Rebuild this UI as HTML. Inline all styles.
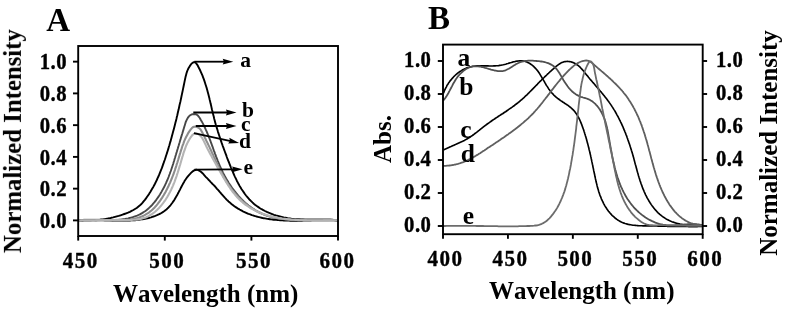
<!DOCTYPE html>
<html><head><meta charset="utf-8"><title>Spectra</title>
<style>html,body{margin:0;padding:0;background:#fff;}svg{display:block;}</style></head>
<body>
<svg width="786" height="310" viewBox="0 0 786 310" >
<defs><filter id="soft" x="0" y="0" width="786" height="310" filterUnits="userSpaceOnUse"><feGaussianBlur stdDeviation="0.38"/></filter></defs>
<rect width="786" height="310" fill="#fff"/>
<g font-family="'Liberation Serif', serif" font-weight="bold" fill="#000" style="font-kerning:none" filter="url(#soft)">
<clipPath id="ca"><rect x="78.2" y="46.0" width="259.8" height="190.0"/></clipPath>
<g clip-path="url(#ca)" fill="none" stroke-width="1.9" stroke-linejoin="round">
<path d="M78.4,220.3 L80.4,220.4 L82.3,220.5 L84.3,220.5 L86.3,220.6 L88.2,220.5 L90.2,220.5 L92.1,220.4 L94.0,220.3 L96.0,220.2 L97.9,220.0 L99.8,219.8 L101.7,219.5 L103.6,219.3 L105.5,219.0 L107.4,218.6 L109.3,218.3 L111.2,217.8 L113.1,217.4 L115.0,216.9 L116.8,216.4 L118.7,215.9 L120.6,215.3 L122.5,214.7 L124.3,214.0 L126.2,213.3 L128.0,212.6 L129.9,211.8 L131.6,210.9 L133.4,210.0 L135.0,209.0 L136.7,208.0 L138.2,206.8 L139.7,205.6 L141.1,204.3 L142.4,202.9 L143.6,201.4 L144.9,199.9 L146.0,198.4 L147.1,196.8 L148.2,195.2 L149.3,193.6 L150.3,192.0 L151.3,190.3 L152.3,188.6 L153.3,186.9 L154.2,185.2 L155.1,183.5 L155.9,181.8 L156.8,180.0 L157.6,178.2 L158.4,176.5 L159.2,174.7 L159.9,172.9 L160.6,171.1 L161.4,169.2 L162.1,167.4 L162.7,165.6 L163.4,163.7 L164.0,161.9 L164.7,160.0 L165.3,158.2 L165.9,156.3 L166.5,154.5 L167.1,152.6 L167.7,150.7 L168.3,148.9 L168.8,147.0 L169.4,145.2 L169.9,143.3 L170.5,141.4 L171.0,139.6 L171.5,137.7 L172.0,135.8 L172.5,134.0 L173.0,132.1 L173.5,130.2 L174.0,128.4 L174.5,126.5 L175.0,124.6 L175.4,122.8 L175.9,120.9 L176.4,119.0 L176.8,117.1 L177.3,115.2 L177.7,113.3 L178.1,111.5 L178.6,109.6 L179.0,107.7 L179.4,105.8 L179.8,103.9 L180.3,102.0 L180.7,100.1 L181.1,98.2 L181.5,96.3 L181.9,94.4 L182.3,92.5 L182.7,90.6 L183.1,88.6 L183.5,86.7 L183.9,84.8 L184.3,82.9 L184.7,80.9 L185.1,79.0 L185.5,77.1 L186.0,75.2 L186.5,73.3 L187.1,71.4 L187.9,69.5 L188.8,67.7 L189.9,65.9 L191.1,64.2 L192.5,62.8 L193.9,62.1 L195.1,62.4 L196.2,63.4 L197.3,64.8 L198.2,66.5 L199.1,68.3 L200.0,70.0 L200.8,71.8 L201.6,73.6 L202.4,75.4 L203.1,77.3 L203.8,79.1 L204.4,80.9 L205.0,82.8 L205.6,84.7 L206.2,86.5 L206.8,88.4 L207.3,90.3 L207.8,92.2 L208.3,94.1 L208.8,96.0 L209.3,97.9 L209.7,99.8 L210.2,101.7 L210.6,103.6 L211.1,105.5 L211.5,107.4 L211.9,109.3 L212.4,111.2 L212.8,113.1 L213.3,115.0 L213.8,116.8 L214.2,118.7 L214.7,120.6 L215.2,122.4 L215.7,124.3 L216.3,126.1 L216.8,127.9 L217.4,129.8 L217.9,131.6 L218.5,133.4 L219.1,135.2 L219.7,137.0 L220.3,138.8 L220.9,140.6 L221.5,142.4 L222.2,144.3 L222.8,146.1 L223.5,147.9 L224.1,149.7 L224.8,151.5 L225.5,153.3 L226.2,155.1 L226.8,157.0 L227.5,158.8 L228.2,160.7 L229.0,162.5 L229.7,164.4 L230.4,166.2 L231.1,168.0 L231.9,169.9 L232.7,171.7 L233.5,173.5 L234.3,175.4 L235.1,177.1 L236.0,178.9 L236.8,180.7 L237.7,182.4 L238.7,184.2 L239.6,185.9 L240.6,187.5 L241.6,189.2 L242.7,190.8 L243.8,192.4 L244.9,194.0 L246.0,195.5 L247.2,196.9 L248.5,198.4 L249.7,199.8 L251.1,201.1 L252.4,202.4 L253.8,203.7 L255.3,204.9 L256.8,206.0 L258.4,207.1 L260.0,208.2 L261.6,209.2 L263.3,210.1 L265.0,211.0 L266.8,211.9 L268.6,212.7 L270.4,213.4 L272.2,214.1 L274.1,214.8 L276.0,215.4 L277.9,215.9 L279.8,216.4 L281.7,216.9 L283.7,217.4 L285.6,217.7 L287.6,218.1 L289.5,218.4 L291.4,218.7 L293.4,218.9 L295.3,219.1 L297.3,219.2 L299.2,219.3 L301.1,219.4 L303.1,219.5 L305.0,219.6 L306.9,219.6 L308.8,219.6 L310.8,219.6 L312.7,219.6 L314.6,219.6 L316.6,219.6 L318.5,219.6 L320.4,219.6 L322.4,219.6 L324.3,219.6 L326.2,219.7 L328.2,219.7 L330.1,219.8 L332.1,219.9 L334.1,220.0 L336.0,220.2 L338.0,220.3" stroke="#000"/>
<path d="M78.4,220.5 L79.7,220.4 L80.9,220.3 L82.2,220.2 L83.4,220.1 L84.7,220.1 L85.9,220.0 L87.2,220.0 L88.4,219.9 L89.7,219.9 L90.9,219.9 L92.2,219.9 L93.5,219.9 L94.7,219.9 L96.0,219.9 L97.2,220.0 L98.5,220.0 L99.7,220.0 L101.0,220.1 L102.3,220.1 L103.5,220.1 L104.8,220.2 L106.0,220.2 L107.3,220.3 L108.6,220.3 L109.8,220.4 L111.1,220.4 L112.3,220.5 L113.6,220.5 L114.9,220.5 L116.1,220.6 L117.4,220.6 L118.6,220.6 L119.9,220.6 L121.2,220.6 L122.4,220.6 L123.7,220.6 L124.9,220.6 L126.2,220.6 L127.5,220.6 L128.7,220.5 L130.0,220.5 L131.2,220.4 L132.5,220.3 L133.7,220.3 L135.0,220.2 L136.2,220.0 L137.5,219.9 L138.8,219.8 L140.0,219.6 L141.3,219.4 L142.5,219.2 L143.8,219.0 L145.0,218.8 L146.2,218.5 L147.5,218.3 L148.7,218.0 L149.9,217.6 L151.1,217.3 L152.3,216.9 L153.5,216.5 L154.7,216.1 L155.8,215.7 L157.0,215.2 L158.1,214.7 L159.2,214.2 L160.3,213.6 L161.4,213.0 L162.4,212.4 L163.4,211.7 L164.4,211.0 L165.4,210.2 L166.4,209.5 L167.3,208.6 L168.2,207.8 L169.0,206.9 L169.9,206.0 L170.7,205.0 L171.4,204.0 L172.2,203.0 L172.9,201.9 L173.7,200.9 L174.4,199.8 L175.0,198.7 L175.7,197.6 L176.3,196.4 L177.0,195.3 L177.6,194.2 L178.2,193.0 L178.8,191.9 L179.4,190.7 L180.0,189.6 L180.6,188.4 L181.2,187.3 L181.7,186.2 L182.3,185.1 L182.9,184.0 L183.5,182.9 L184.1,181.9 L184.7,180.8 L185.4,179.8 L186.1,178.8 L186.8,177.8 L187.5,176.8 L188.3,175.8 L189.2,174.8 L190.1,173.9 L191.0,172.9 L192.0,172.0 L193.1,171.1 L194.2,170.4 L195.3,170.0 L196.3,169.8 L197.4,169.9 L198.4,170.2 L199.5,170.8 L200.5,171.5 L201.5,172.3 L202.5,173.2 L203.4,174.2 L204.4,175.3 L205.3,176.3 L206.2,177.3 L207.1,178.2 L208.0,179.1 L208.8,180.0 L209.7,180.9 L210.5,181.8 L211.3,182.6 L212.1,183.5 L212.9,184.3 L213.8,185.2 L214.6,186.0 L215.4,186.9 L216.2,187.8 L217.0,188.8 L217.8,189.7 L218.7,190.7 L219.5,191.7 L220.4,192.7 L221.2,193.7 L222.1,194.7 L223.0,195.7 L223.9,196.7 L224.8,197.7 L225.7,198.6 L226.6,199.6 L227.6,200.5 L228.5,201.4 L229.5,202.2 L230.4,203.1 L231.4,203.9 L232.4,204.7 L233.4,205.4 L234.4,206.2 L235.4,206.9 L236.5,207.6 L237.5,208.3 L238.6,208.9 L239.6,209.5 L240.7,210.1 L241.8,210.7 L242.9,211.3 L244.0,211.8 L245.1,212.3 L246.2,212.8 L247.3,213.3 L248.4,213.8 L249.6,214.2 L250.7,214.6 L251.9,215.1 L253.0,215.4 L254.2,215.8 L255.4,216.2 L256.6,216.5 L257.8,216.8 L258.9,217.1 L260.1,217.4 L261.4,217.7 L262.6,218.0 L263.8,218.2 L265.0,218.4 L266.2,218.6 L267.5,218.9 L268.7,219.0 L269.9,219.2 L271.2,219.4 L272.4,219.5 L273.7,219.7 L274.9,219.8 L276.2,219.9 L277.5,220.0 L278.7,220.1 L280.0,220.2 L281.3,220.3 L282.5,220.4 L283.8,220.5 L285.1,220.5 L286.4,220.6 L287.7,220.6 L288.9,220.6 L290.2,220.7 L291.5,220.7 L292.8,220.7 L294.1,220.7 L295.4,220.7 L296.6,220.7 L297.9,220.7 L299.2,220.7 L300.5,220.7 L301.8,220.7 L303.1,220.6 L304.4,220.6 L305.6,220.6 L306.9,220.6 L308.2,220.5 L309.5,220.5 L310.8,220.5 L312.0,220.4 L313.3,220.4 L314.6,220.4 L315.8,220.3 L317.1,220.3 L318.4,220.3 L319.6,220.3 L320.9,220.2 L322.1,220.2 L323.4,220.2 L324.6,220.2 L325.9,220.2 L327.1,220.2 L328.3,220.2 L329.5,220.2 L330.8,220.2 L332.0,220.2 L333.2,220.2 L334.4,220.2 L335.6,220.2 L336.8,220.3 L338.0,220.3" stroke="#000"/>
<path d="M78.5,220.4 L80.0,220.3 L81.5,220.2 L83.0,220.2 L84.5,220.1 L86.1,220.1 L87.7,220.1 L89.2,220.1 L90.8,220.1 L92.4,220.1 L94.0,220.1 L95.7,220.2 L97.3,220.2 L98.9,220.2 L100.6,220.2 L102.2,220.2 L103.9,220.3 L105.5,220.3 L107.2,220.3 L108.8,220.2 L110.5,220.2 L112.1,220.2 L113.8,220.1 L115.4,220.0 L117.0,219.9 L118.7,219.8 L120.3,219.6 L121.9,219.4 L123.5,219.2 L125.0,219.0 L126.6,218.7 L128.2,218.4 L129.7,218.0 L131.2,217.6 L132.7,217.2 L134.2,216.7 L135.6,216.2 L137.1,215.6 L138.5,215.0 L139.9,214.4 L141.2,213.6 L142.5,212.9 L143.8,212.0 L145.1,211.2 L146.4,210.2 L147.6,209.2 L148.8,208.2 L149.9,207.1 L151.1,206.0 L152.2,204.8 L153.2,203.6 L154.3,202.4 L155.3,201.1 L156.3,199.8 L157.2,198.5 L158.2,197.1 L159.1,195.8 L160.0,194.4 L160.8,193.0 L161.6,191.6 L162.4,190.1 L163.2,188.7 L164.0,187.3 L164.7,185.8 L165.4,184.3 L166.1,182.9 L166.7,181.4 L167.4,180.0 L168.0,178.5 L168.6,177.0 L169.1,175.5 L169.7,174.0 L170.2,172.5 L170.8,171.0 L171.3,169.5 L171.8,168.0 L172.3,166.5 L172.8,165.0 L173.3,163.5 L173.7,162.0 L174.2,160.5 L174.6,159.0 L175.1,157.5 L175.5,156.0 L176.0,154.5 L176.4,153.0 L176.9,151.5 L177.3,150.0 L177.8,148.5 L178.2,147.0 L178.7,145.5 L179.1,144.0 L179.6,142.5 L180.0,141.0 L180.5,139.4 L180.9,137.9 L181.4,136.4 L181.9,134.8 L182.4,133.3 L182.8,131.7 L183.3,130.1 L183.8,128.5 L184.3,126.8 L184.8,125.2 L185.3,123.5 L185.8,121.9 L186.5,120.3 L187.2,118.9 L188.0,117.6 L188.9,116.4 L190.0,115.4 L191.2,114.7 L192.6,114.2 L194.0,114.1 L195.4,114.2 L196.7,114.7 L197.9,115.6 L198.9,116.8 L199.9,118.2 L200.7,119.7 L201.6,121.2 L202.4,122.6 L203.2,124.1 L203.9,125.6 L204.6,127.0 L205.3,128.5 L205.9,129.9 L206.6,131.4 L207.2,132.8 L207.8,134.3 L208.4,135.8 L209.0,137.3 L209.6,138.7 L210.1,140.2 L210.7,141.7 L211.2,143.2 L211.8,144.7 L212.3,146.2 L212.9,147.7 L213.4,149.2 L213.9,150.6 L214.5,152.1 L215.0,153.6 L215.6,155.1 L216.1,156.6 L216.7,158.1 L217.3,159.6 L217.9,161.1 L218.5,162.5 L219.1,164.0 L219.7,165.5 L220.3,167.0 L221.0,168.4 L221.7,169.9 L222.4,171.3 L223.1,172.8 L223.8,174.2 L224.6,175.7 L225.4,177.1 L226.1,178.5 L227.0,179.9 L227.8,181.3 L228.6,182.7 L229.5,184.0 L230.4,185.4 L231.3,186.7 L232.2,188.1 L233.2,189.4 L234.2,190.7 L235.2,191.9 L236.2,193.2 L237.2,194.4 L238.2,195.6 L239.3,196.8 L240.4,198.0 L241.5,199.1 L242.6,200.3 L243.8,201.4 L244.9,202.4 L246.1,203.5 L247.3,204.5 L248.5,205.5 L249.8,206.4 L251.0,207.4 L252.3,208.3 L253.6,209.1 L254.9,210.0 L256.2,210.8 L257.6,211.5 L259.0,212.3 L260.4,212.9 L261.8,213.6 L263.2,214.2 L264.7,214.8 L266.1,215.3 L267.6,215.8 L269.1,216.3 L270.7,216.7 L272.2,217.1 L273.8,217.5 L275.3,217.8 L276.9,218.1 L278.5,218.4 L280.1,218.6 L281.7,218.8 L283.4,219.0 L285.0,219.2 L286.6,219.3 L288.3,219.5 L289.9,219.6 L291.6,219.6 L293.3,219.7 L294.9,219.8 L296.6,219.8 L298.3,219.8 L299.9,219.8 L301.6,219.8 L303.3,219.8 L305.0,219.8 L306.6,219.8 L308.3,219.8 L309.9,219.8 L311.6,219.7 L313.2,219.7 L314.9,219.7 L316.5,219.6 L318.1,219.6 L319.7,219.6 L321.3,219.6 L322.9,219.6 L324.5,219.6 L326.1,219.6 L327.6,219.7 L329.1,219.7 L330.6,219.8 L332.1,219.8 L333.6,219.9 L335.1,220.0 L336.5,220.2 L337.9,220.3" stroke="#474747"/>
<path d="M78.5,220.5 L79.9,220.3 L81.3,220.1 L82.7,220.0 L84.1,219.9 L85.5,219.8 L87.0,219.8 L88.4,219.7 L89.9,219.7 L91.4,219.7 L92.9,219.7 L94.5,219.8 L96.0,219.8 L97.6,219.9 L99.1,219.9 L100.7,220.0 L102.2,220.0 L103.8,220.1 L105.4,220.2 L107.0,220.2 L108.6,220.3 L110.1,220.4 L111.7,220.4 L113.3,220.4 L114.9,220.4 L116.5,220.5 L118.0,220.4 L119.6,220.4 L121.1,220.4 L122.7,220.3 L124.2,220.2 L125.8,220.1 L127.3,219.9 L128.8,219.8 L130.3,219.6 L131.8,219.3 L133.2,219.0 L134.7,218.7 L136.1,218.4 L137.5,218.0 L138.9,217.6 L140.3,217.1 L141.6,216.6 L142.9,216.0 L144.2,215.4 L145.5,214.7 L146.7,213.9 L148.0,213.2 L149.2,212.3 L150.3,211.4 L151.5,210.5 L152.6,209.5 L153.6,208.5 L154.7,207.4 L155.7,206.3 L156.7,205.1 L157.7,203.9 L158.6,202.7 L159.6,201.5 L160.5,200.2 L161.3,198.9 L162.2,197.6 L163.0,196.3 L163.8,195.0 L164.6,193.6 L165.4,192.3 L166.1,190.9 L166.8,189.5 L167.5,188.1 L168.2,186.8 L168.8,185.4 L169.4,184.0 L170.1,182.6 L170.6,181.3 L171.2,179.9 L171.8,178.5 L172.3,177.1 L172.9,175.7 L173.4,174.3 L173.9,172.9 L174.4,171.5 L174.9,170.1 L175.3,168.7 L175.8,167.3 L176.3,165.8 L176.7,164.4 L177.2,163.0 L177.6,161.6 L178.1,160.1 L178.5,158.7 L179.0,157.2 L179.4,155.8 L179.8,154.3 L180.3,152.8 L180.7,151.4 L181.2,149.9 L181.7,148.4 L182.1,147.0 L182.6,145.5 L183.2,144.1 L183.7,142.6 L184.2,141.2 L184.8,139.8 L185.4,138.4 L186.1,137.1 L186.8,135.7 L187.5,134.4 L188.2,133.1 L189.0,131.9 L189.9,130.6 L190.8,129.4 L191.7,128.3 L192.8,127.3 L194.0,126.7 L195.4,126.6 L197.0,127.0 L198.6,127.7 L199.8,128.7 L200.8,129.9 L201.6,131.2 L202.3,132.5 L203.0,133.9 L203.7,135.3 L204.4,136.6 L205.0,138.0 L205.7,139.3 L206.3,140.7 L207.0,142.0 L207.7,143.4 L208.3,144.7 L209.0,146.1 L209.6,147.4 L210.2,148.8 L210.9,150.1 L211.5,151.5 L212.1,152.9 L212.8,154.2 L213.4,155.6 L214.0,157.0 L214.7,158.3 L215.3,159.7 L215.9,161.1 L216.6,162.5 L217.2,163.8 L217.9,165.2 L218.5,166.6 L219.2,168.0 L219.8,169.3 L220.5,170.7 L221.2,172.0 L221.9,173.4 L222.6,174.7 L223.3,176.1 L224.1,177.4 L224.8,178.7 L225.6,180.0 L226.4,181.3 L227.2,182.6 L228.0,183.9 L228.8,185.1 L229.7,186.4 L230.6,187.6 L231.4,188.9 L232.4,190.1 L233.3,191.3 L234.3,192.4 L235.3,193.6 L236.3,194.7 L237.3,195.9 L238.3,197.0 L239.4,198.1 L240.5,199.1 L241.6,200.2 L242.7,201.2 L243.9,202.2 L245.0,203.2 L246.2,204.1 L247.4,205.0 L248.6,205.9 L249.8,206.8 L251.1,207.7 L252.3,208.5 L253.6,209.3 L254.9,210.1 L256.2,210.8 L257.5,211.5 L258.8,212.2 L260.2,212.8 L261.6,213.4 L262.9,214.0 L264.3,214.6 L265.7,215.1 L267.1,215.6 L268.6,216.0 L270.0,216.5 L271.4,216.8 L272.9,217.2 L274.4,217.5 L275.8,217.8 L277.3,218.1 L278.8,218.4 L280.3,218.6 L281.8,218.8 L283.3,219.0 L284.9,219.1 L286.4,219.3 L287.9,219.4 L289.5,219.5 L291.0,219.6 L292.5,219.7 L294.1,219.7 L295.6,219.8 L297.2,219.8 L298.7,219.9 L300.3,219.9 L301.9,219.9 L303.4,219.9 L305.0,219.9 L306.5,219.9 L308.1,219.8 L309.6,219.8 L311.2,219.8 L312.7,219.8 L314.2,219.8 L315.8,219.7 L317.3,219.7 L318.8,219.7 L320.4,219.7 L321.9,219.7 L323.4,219.7 L324.9,219.7 L326.4,219.7 L327.9,219.7 L329.3,219.8 L330.8,219.8 L332.3,219.9 L333.7,220.0 L335.1,220.1 L336.6,220.2 L338.0,220.3" stroke="#8c8c8c" stroke-width="2.1"/>
<path d="M78.4,220.4 L80.0,220.5 L81.5,220.5 L83.0,220.5 L84.6,220.6 L86.1,220.6 L87.5,220.6 L89.0,220.6 L90.5,220.6 L92.0,220.5 L93.4,220.5 L94.9,220.5 L96.3,220.4 L97.7,220.4 L99.2,220.4 L100.6,220.3 L102.0,220.3 L103.5,220.2 L104.9,220.2 L106.3,220.1 L107.7,220.1 L109.2,220.1 L110.6,220.0 L112.1,220.0 L113.5,220.0 L115.0,220.0 L116.5,219.9 L118.0,219.9 L119.5,219.9 L121.0,219.9 L122.5,220.0 L124.0,220.0 L125.6,220.0 L127.1,220.0 L128.7,220.0 L130.2,220.0 L131.7,219.9 L133.3,219.8 L134.8,219.7 L136.3,219.6 L137.8,219.4 L139.2,219.2 L140.7,218.9 L142.1,218.5 L143.5,218.1 L144.9,217.7 L146.2,217.2 L147.5,216.6 L148.8,215.9 L150.0,215.2 L151.3,214.5 L152.5,213.7 L153.6,212.8 L154.8,212.0 L155.9,211.0 L157.0,210.0 L158.0,209.0 L159.0,208.0 L160.0,206.9 L161.0,205.8 L161.9,204.6 L162.9,203.4 L163.8,202.2 L164.6,201.0 L165.5,199.8 L166.3,198.5 L167.1,197.2 L167.8,195.9 L168.6,194.6 L169.3,193.3 L170.0,192.0 L170.6,190.7 L171.3,189.4 L171.9,188.0 L172.5,186.7 L173.1,185.3 L173.6,184.0 L174.2,182.6 L174.7,181.3 L175.2,179.9 L175.7,178.5 L176.2,177.2 L176.7,175.8 L177.1,174.4 L177.6,173.0 L178.0,171.6 L178.5,170.2 L178.9,168.8 L179.3,167.4 L179.7,166.0 L180.2,164.6 L180.6,163.1 L181.0,161.7 L181.4,160.3 L181.8,158.9 L182.2,157.4 L182.7,156.0 L183.1,154.6 L183.5,153.1 L184.0,151.7 L184.5,150.3 L185.0,148.9 L185.5,147.5 L186.0,146.1 L186.6,144.7 L187.2,143.4 L187.9,142.0 L188.6,140.7 L189.3,139.5 L190.1,138.2 L190.9,137.0 L191.8,135.8 L192.7,134.8 L193.8,134.0 L195.1,133.6 L196.4,133.6 L197.8,133.9 L199.0,134.5 L200.0,135.4 L201.0,136.4 L201.9,137.6 L202.7,139.0 L203.5,140.4 L204.2,141.8 L204.9,143.3 L205.6,144.7 L206.2,146.1 L206.9,147.5 L207.6,148.9 L208.3,150.2 L209.0,151.5 L209.6,152.8 L210.3,154.1 L211.0,155.3 L211.7,156.6 L212.3,157.8 L213.0,159.0 L213.7,160.2 L214.4,161.5 L215.1,162.7 L215.7,163.9 L216.4,165.1 L217.1,166.4 L217.8,167.6 L218.5,168.9 L219.3,170.1 L220.0,171.4 L220.7,172.7 L221.4,174.0 L222.2,175.3 L222.9,176.6 L223.7,177.9 L224.5,179.2 L225.3,180.6 L226.0,181.9 L226.9,183.2 L227.7,184.5 L228.5,185.8 L229.4,187.0 L230.2,188.3 L231.1,189.6 L232.0,190.8 L232.9,192.0 L233.8,193.2 L234.8,194.4 L235.7,195.5 L236.7,196.7 L237.7,197.8 L238.7,198.8 L239.8,199.9 L240.9,200.9 L241.9,201.8 L243.0,202.8 L244.2,203.7 L245.3,204.6 L246.5,205.4 L247.7,206.2 L248.9,207.0 L250.1,207.8 L251.3,208.5 L252.6,209.2 L253.8,209.9 L255.1,210.5 L256.4,211.2 L257.7,211.8 L259.0,212.3 L260.4,212.9 L261.7,213.4 L263.1,213.9 L264.5,214.4 L265.9,214.8 L267.3,215.3 L268.7,215.7 L270.1,216.1 L271.5,216.4 L272.9,216.8 L274.4,217.1 L275.8,217.4 L277.3,217.7 L278.8,218.0 L280.3,218.2 L281.7,218.5 L283.2,218.7 L284.7,218.9 L286.2,219.1 L287.7,219.3 L289.2,219.4 L290.7,219.6 L292.3,219.7 L293.8,219.8 L295.3,219.9 L296.8,220.0 L298.3,220.1 L299.8,220.2 L301.4,220.3 L302.9,220.3 L304.4,220.4 L305.9,220.4 L307.4,220.5 L308.9,220.5 L310.4,220.5 L312.0,220.5 L313.5,220.5 L315.0,220.5 L316.4,220.5 L317.9,220.5 L319.4,220.5 L320.9,220.5 L322.4,220.5 L323.8,220.4 L325.3,220.4 L326.7,220.4 L328.2,220.4 L329.6,220.3 L331.0,220.3 L332.4,220.3 L333.8,220.3 L335.2,220.2 L336.6,220.2 L337.9,220.2" stroke="#b4b4b4" stroke-width="2.1"/>
</g>
<rect x="78.2" y="46.0" width="259.8" height="190.0" fill="none" stroke="#000" stroke-width="1.9"/>
<line x1="73.0" x2="78.2" y1="220.40" y2="220.40" stroke="#000" stroke-width="1.9"/>
<text transform="translate(67.05,228.00) scale(0.9,1)" font-size="23" text-anchor="end" letter-spacing="0.5" stroke="#000" stroke-width="0.4" stroke-linejoin="round">0.0</text>
<line x1="73.0" x2="78.2" y1="188.65" y2="188.65" stroke="#000" stroke-width="1.9"/>
<text transform="translate(67.05,196.25) scale(0.9,1)" font-size="23" text-anchor="end" letter-spacing="0.5" stroke="#000" stroke-width="0.4" stroke-linejoin="round">0.2</text>
<line x1="73.0" x2="78.2" y1="156.90" y2="156.90" stroke="#000" stroke-width="1.9"/>
<text transform="translate(67.05,164.50) scale(0.9,1)" font-size="23" text-anchor="end" letter-spacing="0.5" stroke="#000" stroke-width="0.4" stroke-linejoin="round">0.4</text>
<line x1="73.0" x2="78.2" y1="125.15" y2="125.15" stroke="#000" stroke-width="1.9"/>
<text transform="translate(67.05,132.75) scale(0.9,1)" font-size="23" text-anchor="end" letter-spacing="0.5" stroke="#000" stroke-width="0.4" stroke-linejoin="round">0.6</text>
<line x1="73.0" x2="78.2" y1="93.40" y2="93.40" stroke="#000" stroke-width="1.9"/>
<text transform="translate(67.05,101.00) scale(0.9,1)" font-size="23" text-anchor="end" letter-spacing="0.5" stroke="#000" stroke-width="0.4" stroke-linejoin="round">0.8</text>
<line x1="73.0" x2="78.2" y1="61.65" y2="61.65" stroke="#000" stroke-width="1.9"/>
<text transform="translate(67.05,69.25) scale(0.9,1)" font-size="23" text-anchor="end" letter-spacing="0.5" stroke="#000" stroke-width="0.4" stroke-linejoin="round">1.0</text>
<line x1="78.20" x2="78.20" y1="236.0" y2="240.6" stroke="#000" stroke-width="1.9"/>
<text transform="translate(80.71,268.3) scale(0.89,1)" font-size="23.7" text-anchor="middle" letter-spacing="1.6" stroke="#000" stroke-width="0.4" stroke-linejoin="round">450</text>
<line x1="164.80" x2="164.80" y1="236.0" y2="240.6" stroke="#000" stroke-width="1.9"/>
<text transform="translate(167.31,268.3) scale(0.89,1)" font-size="23.7" text-anchor="middle" letter-spacing="1.6" stroke="#000" stroke-width="0.4" stroke-linejoin="round">500</text>
<line x1="251.40" x2="251.40" y1="236.0" y2="240.6" stroke="#000" stroke-width="1.9"/>
<text transform="translate(253.91,268.3) scale(0.89,1)" font-size="23.7" text-anchor="middle" letter-spacing="1.6" stroke="#000" stroke-width="0.4" stroke-linejoin="round">550</text>
<line x1="338.00" x2="338.00" y1="236.0" y2="240.6" stroke="#000" stroke-width="1.9"/>
<text transform="translate(337.41,268.3) scale(0.89,1)" font-size="23.7" text-anchor="middle" letter-spacing="1.6" stroke="#000" stroke-width="0.4" stroke-linejoin="round">600</text>
<text x="205.6" y="301.7" font-size="25" text-anchor="middle" >Wavelength (nm)</text>
<text transform="translate(20.9,141.1) rotate(-90)" font-size="24.8" text-anchor="middle">Normalized Intensity</text>
<text x="58.2" y="30.6" font-size="33" text-anchor="middle" >A</text>
<line x1="194.30" y1="61.70" x2="224.70" y2="61.70" stroke="#000" stroke-width="1.8"/><polygon points="233.30,61.70 222.70,64.60 223.90,61.70 222.70,58.80" fill="#000"/>
<line x1="193.30" y1="112.50" x2="227.90" y2="112.50" stroke="#000" stroke-width="1.8"/><polygon points="236.50,112.50 225.90,115.40 227.10,112.50 225.90,109.60" fill="#000"/>
<line x1="195.80" y1="126.00" x2="227.90" y2="126.00" stroke="#000" stroke-width="1.8"/><polygon points="236.50,126.00 225.90,128.90 227.10,126.00 225.90,123.10" fill="#000"/>
<line x1="193.90" y1="133.10" x2="230.70" y2="141.08" stroke="#000" stroke-width="1.8"/><polygon points="239.10,142.90 228.13,143.49 229.91,140.91 229.36,137.82" fill="#000"/>
<line x1="194.40" y1="169.60" x2="234.10" y2="169.35" stroke="#000" stroke-width="1.8"/><polygon points="242.70,169.30 232.12,172.27 233.30,169.36 232.08,166.47" fill="#000"/>
<text x="240.2" y="66.5" font-size="21.5" text-anchor="start" >a</text>
<text x="241.9" y="116.6" font-size="21.5" text-anchor="start" >b</text>
<text x="241.0" y="130.6" font-size="21.5" text-anchor="start" >c</text>
<text x="239.0" y="147.8" font-size="21.5" text-anchor="start" >d</text>
<text x="243.4" y="173.9" font-size="21.5" text-anchor="start" >e</text>
<clipPath id="cb"><rect x="443.0" y="44.6" width="259.70000000000005" height="189.6"/></clipPath>
<g clip-path="url(#cb)" fill="none" stroke-width="1.65" stroke-linejoin="round">
<path d="M443.5,93.1 L443.9,92.1 L444.3,91.0 L444.8,89.9 L445.3,88.8 L445.8,87.8 L446.4,86.8 L446.9,85.7 L447.5,84.7 L448.2,83.7 L448.8,82.7 L449.5,81.8 L450.2,80.8 L451.0,79.9 L451.7,79.0 L452.5,78.1 L453.3,77.2 L454.1,76.3 L455.0,75.5 L455.9,74.7 L456.7,74.0 L457.7,73.2 L458.6,72.5 L459.5,71.8 L460.5,71.2 L461.5,70.6 L462.4,70.0 L463.4,69.4 L464.5,68.9 L465.5,68.5 L466.5,68.0 L467.6,67.6 L468.7,67.3 L469.7,67.0 L470.8,66.7 L471.9,66.5 L473.0,66.3 L474.1,66.2 L475.3,66.0 L476.4,65.9 L477.5,65.9 L478.7,65.8 L479.8,65.8 L481.0,65.8 L482.1,65.8 L483.3,65.8 L484.4,65.8 L485.6,65.9 L486.8,65.9 L488.0,65.9 L489.1,66.0 L490.3,66.0 L491.5,66.0 L492.7,66.0 L493.9,65.9 L495.1,65.9 L496.2,65.8 L497.4,65.7 L498.6,65.6 L499.8,65.4 L501.0,65.3 L502.1,65.0 L503.3,64.8 L504.5,64.5 L505.7,64.2 L506.8,63.8 L508.0,63.5 L509.1,63.1 L510.3,62.8 L511.4,62.5 L512.6,62.1 L513.7,61.8 L514.8,61.6 L516.0,61.3 L517.1,61.1 L518.2,61.0 L519.3,60.8 L520.4,60.8 L521.5,60.8 L522.6,60.9 L523.6,61.0 L524.7,61.3 L525.8,61.6 L526.8,62.0 L527.8,62.4 L528.8,62.9 L529.8,63.5 L530.8,64.2 L531.8,64.9 L532.7,65.6 L533.6,66.4 L534.5,67.3 L535.3,68.1 L536.1,69.0 L536.9,69.9 L537.6,70.8 L538.3,71.8 L539.0,72.8 L539.7,73.8 L540.3,74.8 L540.9,75.8 L541.5,76.8 L542.1,77.8 L542.7,78.8 L543.3,79.9 L543.9,80.9 L544.5,81.9 L545.0,82.9 L545.6,83.9 L546.2,85.0 L546.8,85.9 L547.5,86.9 L548.1,87.9 L548.7,88.9 L549.4,89.8 L550.1,90.7 L550.8,91.6 L551.5,92.5 L552.3,93.4 L553.1,94.2 L553.8,95.1 L554.7,95.9 L555.5,96.6 L556.4,97.4 L557.3,98.1 L558.2,98.8 L559.2,99.5 L560.1,100.2 L561.1,100.9 L562.1,101.5 L563.1,102.2 L564.1,102.8 L565.0,103.5 L566.0,104.1 L567.0,104.8 L568.0,105.4 L568.9,106.1 L569.8,106.8 L570.7,107.5 L571.6,108.3 L572.4,109.1 L573.2,109.9 L574.0,110.7 L574.7,111.6 L575.4,112.5 L576.1,113.4 L576.7,114.4 L577.3,115.3 L577.9,116.3 L578.5,117.4 L579.0,118.4 L579.5,119.4 L580.0,120.5 L580.5,121.6 L580.9,122.7 L581.4,123.8 L581.8,124.9 L582.2,126.0 L582.6,127.1 L583.0,128.2 L583.4,129.3 L583.8,130.4 L584.1,131.5 L584.5,132.6 L584.8,133.8 L585.2,134.9 L585.5,136.0 L585.9,137.1 L586.2,138.2 L586.5,139.3 L586.8,140.5 L587.1,141.6 L587.4,142.7 L587.7,143.8 L588.0,144.9 L588.3,146.1 L588.6,147.2 L588.9,148.3 L589.1,149.5 L589.4,150.6 L589.7,151.7 L589.9,152.8 L590.2,154.0 L590.5,155.1 L590.7,156.2 L591.0,157.4 L591.2,158.5 L591.5,159.6 L591.7,160.8 L591.9,161.9 L592.2,163.1 L592.4,164.2 L592.7,165.3 L592.9,166.5 L593.1,167.6 L593.4,168.8 L593.6,169.9 L593.8,171.0 L594.1,172.2 L594.3,173.3 L594.6,174.5 L594.8,175.6 L595.0,176.8 L595.3,177.9 L595.5,179.0 L595.8,180.2 L596.0,181.3 L596.3,182.5 L596.6,183.6 L596.9,184.7 L597.1,185.9 L597.4,187.0 L597.7,188.1 L598.1,189.2 L598.4,190.4 L598.7,191.5 L599.1,192.6 L599.5,193.7 L599.8,194.8 L600.2,195.9 L600.7,196.9 L601.1,198.0 L601.5,199.1 L602.0,200.1 L602.5,201.2 L603.0,202.2 L603.5,203.3 L604.1,204.3 L604.6,205.3 L605.2,206.3 L605.8,207.3 L606.5,208.3 L607.1,209.3 L607.8,210.2 L608.5,211.2 L609.3,212.1 L610.0,213.0 L610.8,213.9 L611.6,214.8 L612.4,215.6 L613.3,216.4 L614.2,217.2 L615.0,218.0 L616.0,218.7 L616.9,219.4 L617.8,220.0 L618.8,220.6 L619.8,221.2 L620.8,221.8 L621.8,222.3 L622.9,222.7 L624.0,223.1 L625.0,223.5 L626.1,223.8 L627.2,224.1 L628.4,224.4 L629.5,224.6 L630.6,224.8 L631.8,225.0 L632.9,225.2 L634.1,225.3 L635.3,225.4 L636.5,225.5 L637.7,225.6 L638.9,225.7 L640.0,225.7 L641.2,225.7 L642.4,225.8 L643.6,225.8 L644.8,225.8 L646.0,225.8 L647.2,225.9 L648.4,225.9 L649.6,225.9 L650.8,225.9 L651.9,226.0 L653.1,226.0 L654.3,226.0 L655.4,226.0 L656.6,226.0 L657.8,226.1 L658.9,226.1 L660.1,226.1 L661.2,226.1 L662.4,226.2 L663.5,226.2 L664.7,226.2 L665.8,226.2 L667.0,226.3 L668.1,226.3 L669.3,226.3 L670.4,226.3 L671.6,226.3 L672.7,226.4 L673.9,226.4 L675.0,226.4 L676.2,226.4 L677.3,226.4 L678.5,226.5 L679.6,226.5 L680.8,226.5 L681.9,226.5 L683.1,226.5 L684.2,226.5 L685.4,226.5 L686.5,226.5 L687.7,226.5 L688.9,226.6 L690.0,226.6 L691.2,226.6 L692.4,226.6 L693.5,226.6 L694.7,226.6 L695.9,226.6 L697.1,226.6 L698.2,226.5 L699.4,226.5 L700.6,226.5 L701.8,226.5 L703.0,226.5" stroke="#000"/>
<path d="M443.3,149.9 L444.4,149.4 L445.5,148.9 L446.6,148.4 L447.7,147.9 L448.8,147.4 L449.9,146.9 L451.0,146.5 L452.1,146.0 L453.2,145.5 L454.3,145.1 L455.5,144.6 L456.6,144.1 L457.7,143.6 L458.8,143.1 L459.9,142.6 L461.0,142.1 L462.1,141.6 L463.2,141.0 L464.3,140.5 L465.3,139.9 L466.4,139.3 L467.4,138.7 L468.4,138.1 L469.4,137.5 L470.4,136.8 L471.4,136.1 L472.4,135.5 L473.4,134.8 L474.3,134.0 L475.3,133.3 L476.2,132.6 L477.2,131.9 L478.1,131.1 L479.1,130.4 L480.0,129.6 L480.9,128.9 L481.9,128.1 L482.8,127.4 L483.8,126.6 L484.7,125.9 L485.7,125.2 L486.6,124.5 L487.6,123.8 L488.6,123.1 L489.6,122.4 L490.5,121.7 L491.5,121.0 L492.5,120.3 L493.5,119.6 L494.5,119.0 L495.5,118.3 L496.5,117.6 L497.5,117.0 L498.5,116.3 L499.5,115.6 L500.5,115.0 L501.5,114.3 L502.6,113.7 L503.6,113.0 L504.6,112.3 L505.6,111.7 L506.6,111.0 L507.6,110.3 L508.5,109.6 L509.5,108.9 L510.5,108.3 L511.5,107.6 L512.5,106.9 L513.4,106.2 L514.4,105.5 L515.4,104.7 L516.3,104.0 L517.3,103.3 L518.2,102.5 L519.1,101.8 L520.1,101.0 L521.0,100.2 L521.9,99.5 L522.8,98.7 L523.7,97.9 L524.6,97.0 L525.4,96.2 L526.3,95.4 L527.2,94.6 L528.0,93.7 L528.9,92.9 L529.7,92.0 L530.6,91.2 L531.4,90.3 L532.3,89.4 L533.1,88.6 L534.0,87.7 L534.8,86.8 L535.6,86.0 L536.5,85.1 L537.3,84.3 L538.1,83.4 L539.0,82.5 L539.8,81.7 L540.7,80.8 L541.5,80.0 L542.3,79.1 L543.2,78.3 L544.1,77.5 L544.9,76.7 L545.8,75.8 L546.7,75.0 L547.5,74.2 L548.4,73.4 L549.3,72.5 L550.2,71.7 L551.1,70.9 L552.0,70.0 L553.0,69.2 L553.9,68.3 L554.9,67.5 L555.8,66.7 L556.8,65.9 L557.8,65.1 L558.8,64.4 L559.8,63.7 L560.8,63.1 L561.9,62.6 L562.9,62.2 L564.0,61.8 L565.1,61.6 L566.2,61.5 L567.4,61.4 L568.5,61.5 L569.6,61.6 L570.7,61.8 L571.8,62.1 L572.9,62.5 L574.0,62.9 L575.0,63.4 L576.0,64.0 L577.0,64.7 L578.0,65.4 L578.9,66.1 L579.8,66.9 L580.6,67.8 L581.4,68.7 L582.3,69.6 L583.1,70.5 L583.9,71.5 L584.6,72.4 L585.4,73.4 L586.2,74.4 L587.0,75.4 L587.8,76.3 L588.5,77.3 L589.3,78.2 L590.1,79.2 L590.9,80.1 L591.7,81.0 L592.5,82.0 L593.3,82.9 L594.1,83.8 L594.9,84.7 L595.7,85.7 L596.5,86.6 L597.3,87.5 L598.0,88.4 L598.8,89.3 L599.6,90.2 L600.4,91.2 L601.2,92.1 L601.9,93.0 L602.7,93.9 L603.5,94.9 L604.2,95.8 L604.9,96.7 L605.7,97.7 L606.4,98.6 L607.1,99.5 L607.8,100.5 L608.6,101.5 L609.2,102.4 L609.9,103.4 L610.6,104.4 L611.3,105.4 L611.9,106.4 L612.6,107.4 L613.2,108.4 L613.8,109.4 L614.5,110.4 L615.1,111.4 L615.7,112.5 L616.3,113.5 L616.8,114.6 L617.4,115.6 L618.0,116.7 L618.5,117.7 L619.1,118.8 L619.6,119.9 L620.2,121.0 L620.7,122.1 L621.2,123.1 L621.7,124.2 L622.2,125.3 L622.7,126.4 L623.2,127.5 L623.6,128.7 L624.1,129.8 L624.6,130.9 L625.0,132.0 L625.5,133.1 L625.9,134.3 L626.4,135.4 L626.8,136.5 L627.2,137.7 L627.6,138.8 L628.0,140.0 L628.4,141.1 L628.8,142.2 L629.2,143.4 L629.6,144.5 L630.0,145.7 L630.3,146.8 L630.7,148.0 L631.1,149.2 L631.4,150.3 L631.8,151.5 L632.1,152.6 L632.5,153.8 L632.8,154.9 L633.1,156.1 L633.5,157.3 L633.8,158.4 L634.1,159.6 L634.4,160.7 L634.7,161.9 L635.0,163.1 L635.3,164.2 L635.7,165.4 L636.0,166.5 L636.3,167.7 L636.6,168.8 L636.9,170.0 L637.2,171.1 L637.5,172.3 L637.9,173.4 L638.2,174.6 L638.5,175.7 L638.9,176.9 L639.2,178.0 L639.6,179.1 L639.9,180.3 L640.3,181.4 L640.7,182.5 L641.1,183.7 L641.5,184.8 L641.9,185.9 L642.3,187.0 L642.7,188.2 L643.2,189.3 L643.7,190.4 L644.1,191.5 L644.6,192.6 L645.1,193.7 L645.6,194.8 L646.2,195.9 L646.7,197.0 L647.3,198.1 L647.9,199.1 L648.5,200.2 L649.1,201.3 L649.8,202.3 L650.4,203.3 L651.1,204.4 L651.8,205.4 L652.5,206.4 L653.3,207.3 L654.0,208.3 L654.8,209.2 L655.6,210.1 L656.4,211.0 L657.2,211.9 L658.1,212.8 L659.0,213.6 L659.8,214.4 L660.8,215.2 L661.7,215.9 L662.7,216.6 L663.6,217.3 L664.6,217.9 L665.6,218.6 L666.7,219.2 L667.7,219.7 L668.8,220.3 L669.8,220.8 L670.9,221.3 L672.0,221.7 L673.2,222.1 L674.3,222.5 L675.4,222.9 L676.6,223.2 L677.8,223.5 L678.9,223.8 L680.1,224.1 L681.3,224.3 L682.5,224.5 L683.7,224.7 L684.9,224.9 L686.1,225.0 L687.3,225.1 L688.5,225.2 L689.7,225.3 L691.0,225.3 L692.2,225.4 L693.4,225.4 L694.6,225.5 L695.8,225.5 L697.0,225.5 L698.2,225.5 L699.4,225.6 L700.6,225.6 L701.8,225.6 L703.0,225.7" stroke="#000"/>
<path d="M443.3,100.5 L444.0,99.6 L444.8,98.6 L445.5,97.7 L446.1,96.7 L446.8,95.7 L447.4,94.7 L448.0,93.7 L448.6,92.7 L449.1,91.6 L449.7,90.6 L450.2,89.5 L450.8,88.5 L451.3,87.5 L451.9,86.4 L452.4,85.4 L452.9,84.3 L453.5,83.3 L454.1,82.3 L454.7,81.2 L455.3,80.2 L455.9,79.2 L456.6,78.3 L457.3,77.3 L458.0,76.3 L458.8,75.4 L459.6,74.5 L460.4,73.6 L461.3,72.8 L462.1,72.0 L463.1,71.2 L464.0,70.4 L465.0,69.7 L466.0,69.1 L467.0,68.5 L468.1,68.0 L469.1,67.5 L470.2,67.1 L471.3,66.8 L472.4,66.5 L473.5,66.4 L474.6,66.3 L475.8,66.2 L476.9,66.3 L478.1,66.4 L479.2,66.5 L480.4,66.7 L481.6,67.0 L482.7,67.2 L483.9,67.5 L485.1,67.9 L486.3,68.2 L487.4,68.5 L488.6,68.9 L489.8,69.2 L491.0,69.6 L492.1,69.9 L493.3,70.2 L494.5,70.5 L495.6,70.7 L496.8,70.9 L497.9,71.1 L499.0,71.2 L500.2,71.2 L501.3,71.2 L502.4,71.1 L503.4,70.9 L504.5,70.6 L505.6,70.3 L506.6,69.8 L507.6,69.3 L508.7,68.8 L509.7,68.2 L510.7,67.6 L511.7,66.9 L512.7,66.3 L513.8,65.6 L514.8,65.0 L515.8,64.3 L516.9,63.7 L517.9,63.2 L519.0,62.7 L520.1,62.2 L521.2,61.9 L522.3,61.5 L523.4,61.3 L524.6,61.1 L525.7,60.9 L526.9,60.8 L528.1,60.7 L529.3,60.7 L530.5,60.7 L531.7,60.7 L532.9,60.7 L534.1,60.8 L535.3,60.9 L536.5,61.0 L537.7,61.1 L538.9,61.2 L540.1,61.3 L541.3,61.5 L542.5,61.7 L543.7,61.9 L544.8,62.2 L546.0,62.5 L547.1,62.8 L548.2,63.2 L549.2,63.6 L550.2,64.1 L551.2,64.6 L552.2,65.2 L553.1,65.8 L554.0,66.5 L554.8,67.2 L555.6,68.0 L556.4,68.9 L557.1,69.8 L557.8,70.7 L558.5,71.7 L559.2,72.7 L559.8,73.8 L560.4,74.8 L561.1,75.9 L561.7,76.9 L562.3,78.0 L562.9,79.1 L563.5,80.2 L564.2,81.2 L564.8,82.3 L565.5,83.3 L566.2,84.3 L566.9,85.3 L567.6,86.3 L568.3,87.2 L569.0,88.1 L569.8,89.0 L570.6,89.9 L571.4,90.7 L572.2,91.5 L573.1,92.2 L574.0,93.0 L574.9,93.6 L575.8,94.3 L576.8,94.9 L577.8,95.4 L578.8,95.9 L579.8,96.4 L580.9,96.8 L582.0,97.1 L583.1,97.5 L584.2,97.8 L585.4,98.1 L586.5,98.5 L587.6,98.9 L588.6,99.3 L589.7,99.8 L590.7,100.4 L591.7,101.0 L592.6,101.6 L593.5,102.4 L594.4,103.1 L595.3,103.9 L596.1,104.8 L596.9,105.6 L597.6,106.5 L598.4,107.5 L599.1,108.5 L599.8,109.4 L600.4,110.5 L601.0,111.5 L601.6,112.6 L602.1,113.6 L602.7,114.7 L603.2,115.8 L603.6,116.8 L604.1,117.9 L604.5,119.0 L604.9,120.1 L605.3,121.2 L605.6,122.3 L605.9,123.4 L606.2,124.5 L606.5,125.7 L606.8,126.8 L607.1,127.9 L607.3,129.0 L607.6,130.2 L607.8,131.3 L608.0,132.4 L608.2,133.6 L608.4,134.7 L608.6,135.9 L608.8,137.0 L609.0,138.2 L609.2,139.3 L609.4,140.5 L609.6,141.7 L609.8,142.8 L610.0,144.0 L610.2,145.2 L610.4,146.3 L610.6,147.5 L610.8,148.7 L611.0,149.9 L611.3,151.0 L611.5,152.2 L611.7,153.4 L611.9,154.6 L612.1,155.7 L612.4,156.9 L612.6,158.1 L612.9,159.3 L613.1,160.5 L613.4,161.6 L613.6,162.8 L613.9,164.0 L614.2,165.1 L614.5,166.3 L614.7,167.5 L615.0,168.6 L615.3,169.8 L615.7,170.9 L616.0,172.1 L616.3,173.2 L616.6,174.4 L617.0,175.5 L617.3,176.6 L617.7,177.8 L618.1,178.9 L618.5,180.0 L618.9,181.1 L619.3,182.2 L619.7,183.3 L620.1,184.4 L620.6,185.5 L621.0,186.6 L621.5,187.7 L622.0,188.7 L622.5,189.8 L623.0,190.8 L623.5,191.9 L624.0,192.9 L624.6,193.9 L625.1,195.0 L625.7,196.0 L626.3,197.0 L626.9,198.0 L627.5,198.9 L628.2,199.9 L628.8,200.9 L629.5,201.8 L630.2,202.8 L630.9,203.7 L631.6,204.6 L632.3,205.5 L633.1,206.4 L633.8,207.3 L634.6,208.2 L635.4,209.0 L636.3,209.9 L637.1,210.7 L638.0,211.5 L638.9,212.3 L639.8,213.1 L640.7,213.8 L641.6,214.6 L642.5,215.3 L643.5,216.0 L644.5,216.7 L645.5,217.4 L646.4,218.0 L647.5,218.7 L648.5,219.3 L649.5,219.9 L650.6,220.4 L651.6,220.9 L652.7,221.4 L653.8,221.9 L654.9,222.4 L656.0,222.8 L657.1,223.2 L658.2,223.5 L659.3,223.9 L660.5,224.2 L661.6,224.4 L662.8,224.7 L663.9,224.9 L665.1,225.0 L666.3,225.2 L667.5,225.3 L668.6,225.3 L669.8,225.4 L671.0,225.4 L672.2,225.4 L673.4,225.3 L674.6,225.3 L675.8,225.2 L677.0,225.1 L678.3,225.1 L679.5,225.0 L680.7,224.8 L681.9,224.7 L683.1,224.6 L684.3,224.5 L685.5,224.4 L686.7,224.3 L687.9,224.2 L689.1,224.2 L690.3,224.1 L691.5,224.1 L692.7,224.1 L693.8,224.1 L695.0,224.1 L696.2,224.2 L697.3,224.3 L698.5,224.4 L699.6,224.6 L700.8,224.8 L701.9,225.0 L703.0,225.3" stroke="#505050" stroke-width="1.8"/>
<path d="M443.2,165.8 L444.5,165.8 L445.8,165.8 L447.1,165.7 L448.3,165.6 L449.6,165.5 L450.8,165.4 L452.1,165.2 L453.3,165.0 L454.5,164.7 L455.7,164.5 L456.9,164.2 L458.0,163.9 L459.2,163.5 L460.4,163.1 L461.5,162.7 L462.7,162.3 L463.8,161.9 L464.9,161.4 L466.0,160.9 L467.2,160.4 L468.3,159.9 L469.4,159.3 L470.5,158.8 L471.5,158.2 L472.6,157.6 L473.7,157.0 L474.8,156.4 L475.8,155.8 L476.9,155.1 L478.0,154.5 L479.0,153.8 L480.1,153.2 L481.1,152.5 L482.2,151.8 L483.2,151.1 L484.3,150.4 L485.3,149.7 L486.4,149.0 L487.4,148.3 L488.4,147.6 L489.5,146.9 L490.5,146.2 L491.6,145.5 L492.6,144.9 L493.6,144.2 L494.7,143.5 L495.7,142.8 L496.8,142.1 L497.8,141.4 L498.8,140.7 L499.9,140.0 L500.9,139.3 L501.9,138.6 L502.9,137.9 L504.0,137.2 L505.0,136.5 L506.0,135.8 L507.0,135.1 L508.0,134.4 L509.0,133.6 L510.0,132.9 L511.0,132.2 L512.0,131.5 L513.0,130.7 L514.0,130.0 L515.0,129.3 L516.0,128.5 L517.0,127.8 L517.9,127.0 L518.9,126.2 L519.8,125.5 L520.8,124.7 L521.7,123.9 L522.7,123.1 L523.6,122.3 L524.5,121.5 L525.4,120.7 L526.4,119.9 L527.3,119.1 L528.2,118.3 L529.0,117.4 L529.9,116.6 L530.8,115.7 L531.7,114.8 L532.5,114.0 L533.4,113.1 L534.2,112.2 L535.0,111.3 L535.8,110.3 L536.7,109.4 L537.5,108.5 L538.3,107.5 L539.1,106.6 L539.9,105.6 L540.6,104.7 L541.4,103.7 L542.2,102.8 L543.0,101.8 L543.7,100.8 L544.5,99.8 L545.3,98.8 L546.0,97.8 L546.8,96.9 L547.5,95.9 L548.3,94.9 L549.1,93.9 L549.8,92.9 L550.6,91.9 L551.3,90.9 L552.1,89.9 L552.9,88.9 L553.6,87.9 L554.4,86.9 L555.2,85.9 L555.9,85.0 L556.7,84.0 L557.5,83.0 L558.3,82.0 L559.1,81.1 L559.9,80.1 L560.7,79.1 L561.5,78.2 L562.3,77.3 L563.1,76.3 L563.9,75.4 L564.8,74.5 L565.6,73.6 L566.5,72.7 L567.3,71.8 L568.2,70.9 L569.1,70.0 L570.0,69.2 L570.9,68.3 L571.8,67.5 L572.8,66.7 L573.7,65.9 L574.7,65.1 L575.7,64.4 L576.7,63.7 L577.8,63.1 L578.9,62.5 L580.0,62.0 L581.2,61.5 L582.4,61.1 L583.7,60.8 L584.9,60.6 L586.2,60.5 L587.4,60.6 L588.5,60.9 L589.6,61.3 L590.6,61.9 L591.5,62.6 L592.5,63.4 L593.4,64.2 L594.3,65.0 L595.2,65.8 L596.2,66.6 L597.1,67.4 L598.0,68.2 L599.0,69.0 L599.9,69.8 L600.9,70.6 L601.8,71.4 L602.8,72.2 L603.7,73.0 L604.7,73.9 L605.6,74.7 L606.5,75.5 L607.5,76.3 L608.4,77.2 L609.3,78.0 L610.3,78.8 L611.2,79.7 L612.1,80.5 L613.0,81.4 L613.9,82.3 L614.8,83.1 L615.7,84.0 L616.6,84.9 L617.5,85.8 L618.3,86.7 L619.2,87.6 L620.0,88.5 L620.8,89.4 L621.7,90.3 L622.5,91.3 L623.3,92.2 L624.0,93.2 L624.8,94.2 L625.6,95.1 L626.3,96.1 L627.0,97.1 L627.7,98.1 L628.4,99.1 L629.1,100.2 L629.8,101.2 L630.5,102.2 L631.1,103.3 L631.7,104.3 L632.4,105.4 L633.0,106.5 L633.6,107.6 L634.2,108.6 L634.7,109.7 L635.3,110.8 L635.8,111.9 L636.4,113.0 L636.9,114.2 L637.4,115.3 L638.0,116.4 L638.5,117.5 L638.9,118.7 L639.4,119.8 L639.9,121.0 L640.4,122.1 L640.8,123.3 L641.3,124.4 L641.7,125.6 L642.1,126.8 L642.5,127.9 L642.9,129.1 L643.3,130.3 L643.7,131.5 L644.1,132.6 L644.5,133.8 L644.9,135.0 L645.2,136.2 L645.6,137.4 L645.9,138.5 L646.3,139.7 L646.6,140.9 L647.0,142.1 L647.3,143.3 L647.6,144.5 L648.0,145.7 L648.3,146.9 L648.6,148.1 L648.9,149.3 L649.2,150.5 L649.6,151.7 L649.9,152.9 L650.2,154.0 L650.5,155.2 L650.8,156.4 L651.1,157.6 L651.4,158.8 L651.8,160.0 L652.1,161.2 L652.4,162.4 L652.7,163.6 L653.1,164.8 L653.4,166.0 L653.7,167.2 L654.1,168.3 L654.4,169.5 L654.8,170.7 L655.1,171.9 L655.5,173.1 L655.8,174.3 L656.2,175.4 L656.6,176.6 L657.0,177.8 L657.4,178.9 L657.8,180.1 L658.2,181.3 L658.6,182.4 L659.1,183.6 L659.5,184.8 L660.0,185.9 L660.4,187.1 L660.9,188.2 L661.4,189.4 L661.9,190.5 L662.4,191.6 L662.9,192.8 L663.5,193.9 L664.0,195.0 L664.6,196.2 L665.2,197.3 L665.8,198.4 L666.4,199.5 L667.0,200.6 L667.7,201.7 L668.4,202.8 L669.0,203.8 L669.7,204.9 L670.4,205.9 L671.2,206.9 L671.9,207.9 L672.7,208.9 L673.4,209.9 L674.2,210.9 L675.0,211.8 L675.9,212.7 L676.7,213.6 L677.6,214.4 L678.5,215.3 L679.4,216.1 L680.3,216.9 L681.3,217.6 L682.2,218.4 L683.2,219.1 L684.2,219.7 L685.2,220.4 L686.3,221.0 L687.3,221.5 L688.4,222.1 L689.5,222.6 L690.6,223.0 L691.8,223.4 L693.0,223.8 L694.2,224.1 L695.4,224.4 L696.6,224.7 L697.9,224.9 L699.1,225.0 L700.4,225.1 L701.8,225.2 L703.1,225.2" stroke="#5e5e5e" stroke-width="1.8"/>
<path d="M443.3,226.0 L444.9,226.0 L446.6,225.9 L448.2,225.9 L449.8,225.9 L451.5,225.9 L453.1,225.8 L454.7,225.8 L456.3,225.8 L457.9,225.8 L459.5,225.8 L461.1,225.8 L462.7,225.8 L464.2,225.8 L465.8,225.8 L467.4,225.8 L469.0,225.9 L470.5,225.9 L472.1,225.9 L473.7,225.9 L475.2,225.9 L476.8,226.0 L478.3,226.0 L479.9,226.0 L481.5,226.0 L483.0,226.0 L484.6,226.1 L486.1,226.1 L487.7,226.1 L489.2,226.1 L490.8,226.2 L492.4,226.2 L493.9,226.2 L495.5,226.2 L497.1,226.2 L498.6,226.3 L500.2,226.3 L501.8,226.3 L503.3,226.3 L504.9,226.3 L506.5,226.3 L508.1,226.3 L509.7,226.3 L511.3,226.3 L512.9,226.3 L514.5,226.3 L516.1,226.3 L517.7,226.3 L519.3,226.2 L520.9,226.2 L522.6,226.2 L524.2,226.1 L525.8,226.1 L527.5,226.0 L529.2,226.0 L530.8,225.9 L532.5,225.8 L534.1,225.7 L535.8,225.5 L537.4,225.3 L538.9,224.9 L540.4,224.4 L541.8,223.8 L543.2,223.1 L544.6,222.3 L545.8,221.5 L547.1,220.5 L548.2,219.4 L549.4,218.3 L550.5,217.2 L551.5,215.9 L552.5,214.7 L553.5,213.4 L554.4,212.1 L555.3,210.8 L556.2,209.4 L557.0,208.1 L557.8,206.7 L558.6,205.3 L559.3,203.9 L560.0,202.4 L560.7,201.0 L561.3,199.5 L561.9,198.1 L562.5,196.6 L563.1,195.1 L563.6,193.6 L564.2,192.1 L564.7,190.6 L565.2,189.1 L565.6,187.5 L566.1,186.0 L566.5,184.5 L566.9,182.9 L567.3,181.4 L567.7,179.8 L568.1,178.2 L568.4,176.7 L568.8,175.1 L569.1,173.6 L569.4,172.0 L569.7,170.4 L570.1,168.9 L570.4,167.3 L570.7,165.8 L571.0,164.2 L571.2,162.7 L571.5,161.1 L571.8,159.5 L572.0,158.0 L572.3,156.4 L572.6,154.9 L572.8,153.3 L573.0,151.7 L573.3,150.2 L573.5,148.6 L573.7,147.1 L574.0,145.5 L574.2,143.9 L574.4,142.4 L574.6,140.8 L574.8,139.2 L575.0,137.7 L575.2,136.1 L575.4,134.5 L575.6,133.0 L575.8,131.4 L576.0,129.8 L576.2,128.3 L576.3,126.7 L576.5,125.1 L576.7,123.5 L576.9,121.9 L577.1,120.3 L577.2,118.8 L577.4,117.2 L577.6,115.6 L577.8,114.0 L577.9,112.4 L578.1,110.8 L578.3,109.2 L578.5,107.6 L578.6,106.0 L578.8,104.4 L579.0,102.7 L579.2,101.1 L579.4,99.5 L579.6,97.9 L579.8,96.2 L579.9,94.6 L580.2,93.0 L580.4,91.4 L580.6,89.8 L580.8,88.1 L581.1,86.5 L581.3,84.9 L581.6,83.4 L581.9,81.8 L582.3,80.2 L582.6,78.7 L583.0,77.1 L583.4,75.6 L583.8,74.1 L584.3,72.6 L584.8,71.2 L585.3,69.8 L585.9,68.4 L586.5,67.0 L587.1,65.6 L587.8,64.3 L588.5,63.0 L589.3,61.8 L590.2,61.3 L591.2,61.7 L592.2,62.6 L593.0,64.0 L593.6,65.6 L594.0,67.4 L594.4,69.4 L594.7,71.3 L595.0,73.1 L595.4,74.7 L595.7,76.3 L596.0,77.9 L596.3,79.4 L596.7,80.8 L597.0,82.3 L597.3,83.7 L597.6,85.2 L597.9,86.7 L598.3,88.2 L598.6,89.7 L598.9,91.3 L599.2,92.8 L599.5,94.4 L599.8,96.0 L600.2,97.5 L600.5,99.1 L600.8,100.7 L601.1,102.3 L601.4,103.9 L601.7,105.5 L602.0,107.1 L602.3,108.7 L602.7,110.3 L603.0,111.9 L603.3,113.4 L603.6,115.0 L603.9,116.6 L604.2,118.1 L604.6,119.7 L604.9,121.2 L605.2,122.8 L605.5,124.3 L605.8,125.9 L606.2,127.4 L606.5,129.0 L606.8,130.5 L607.1,132.1 L607.4,133.6 L607.8,135.1 L608.1,136.7 L608.4,138.2 L608.7,139.7 L609.0,141.3 L609.4,142.8 L609.7,144.4 L610.0,145.9 L610.3,147.5 L610.6,149.0 L610.9,150.5 L611.3,152.1 L611.6,153.6 L611.9,155.2 L612.2,156.8 L612.5,158.3 L612.8,159.9 L613.1,161.5 L613.5,163.0 L613.8,164.6 L614.1,166.2 L614.4,167.8 L614.7,169.4 L615.0,171.0 L615.4,172.6 L615.7,174.2 L616.0,175.7 L616.4,177.3 L616.8,178.9 L617.1,180.5 L617.5,182.0 L617.9,183.6 L618.3,185.2 L618.8,186.7 L619.2,188.2 L619.7,189.8 L620.2,191.3 L620.7,192.8 L621.3,194.3 L621.8,195.8 L622.4,197.2 L623.0,198.7 L623.7,200.1 L624.3,201.5 L625.1,202.9 L625.8,204.3 L626.6,205.6 L627.4,207.0 L628.2,208.3 L629.1,209.6 L630.0,210.8 L630.9,212.1 L631.9,213.3 L632.9,214.5 L634.0,215.6 L635.1,216.8 L636.3,217.9 L637.5,218.9 L638.8,220.0 L640.1,221.0 L641.4,221.9 L642.8,222.8 L644.2,223.5 L645.7,224.1 L647.2,224.6 L648.8,224.9 L650.4,225.1 L652.0,225.2 L653.6,225.3 L655.2,225.3 L656.9,225.3 L658.5,225.2 L660.1,225.2 L661.7,225.2 L663.3,225.2 L664.9,225.2 L666.5,225.3 L668.1,225.3 L669.7,225.3 L671.3,225.4 L672.8,225.4 L674.4,225.4 L676.0,225.5 L677.6,225.5 L679.1,225.6 L680.7,225.6 L682.3,225.7 L683.9,225.7 L685.4,225.7 L687.0,225.8 L688.6,225.8 L690.2,225.8 L691.8,225.9 L693.3,225.9 L694.9,225.9 L696.5,225.8 L698.1,225.8 L699.8,225.8 L701.4,225.8 L703.0,225.7" stroke="#6c6c6c" stroke-width="1.8"/>
</g>
<rect x="443.0" y="44.6" width="259.70000000000005" height="189.6" fill="none" stroke="#000" stroke-width="1.9"/>
<line x1="437.8" x2="443.0" y1="226.00" y2="226.00" stroke="#000" stroke-width="1.9"/>
<line x1="702.7" x2="707.1" y1="226.00" y2="226.00" stroke="#000" stroke-width="1.9"/>
<text transform="translate(431.35,232.00) scale(0.9,1)" font-size="23" text-anchor="end" letter-spacing="0.5" stroke="#000" stroke-width="0.4" stroke-linejoin="round">0.0</text>
<text transform="translate(716.00,232.10) scale(0.9,1)" font-size="23" text-anchor="start" letter-spacing="0.5" stroke="#000" stroke-width="0.4" stroke-linejoin="round">0.0</text>
<line x1="437.8" x2="443.0" y1="193.00" y2="193.00" stroke="#000" stroke-width="1.9"/>
<line x1="702.7" x2="707.1" y1="193.00" y2="193.00" stroke="#000" stroke-width="1.9"/>
<text transform="translate(431.35,199.00) scale(0.9,1)" font-size="23" text-anchor="end" letter-spacing="0.5" stroke="#000" stroke-width="0.4" stroke-linejoin="round">0.2</text>
<text transform="translate(716.00,199.10) scale(0.9,1)" font-size="23" text-anchor="start" letter-spacing="0.5" stroke="#000" stroke-width="0.4" stroke-linejoin="round">0.2</text>
<line x1="437.8" x2="443.0" y1="160.00" y2="160.00" stroke="#000" stroke-width="1.9"/>
<line x1="702.7" x2="707.1" y1="160.00" y2="160.00" stroke="#000" stroke-width="1.9"/>
<text transform="translate(431.35,166.00) scale(0.9,1)" font-size="23" text-anchor="end" letter-spacing="0.5" stroke="#000" stroke-width="0.4" stroke-linejoin="round">0.4</text>
<text transform="translate(716.00,166.10) scale(0.9,1)" font-size="23" text-anchor="start" letter-spacing="0.5" stroke="#000" stroke-width="0.4" stroke-linejoin="round">0.4</text>
<line x1="437.8" x2="443.0" y1="127.00" y2="127.00" stroke="#000" stroke-width="1.9"/>
<line x1="702.7" x2="707.1" y1="127.00" y2="127.00" stroke="#000" stroke-width="1.9"/>
<text transform="translate(431.35,133.00) scale(0.9,1)" font-size="23" text-anchor="end" letter-spacing="0.5" stroke="#000" stroke-width="0.4" stroke-linejoin="round">0.6</text>
<text transform="translate(716.00,133.10) scale(0.9,1)" font-size="23" text-anchor="start" letter-spacing="0.5" stroke="#000" stroke-width="0.4" stroke-linejoin="round">0.6</text>
<line x1="437.8" x2="443.0" y1="94.00" y2="94.00" stroke="#000" stroke-width="1.9"/>
<line x1="702.7" x2="707.1" y1="94.00" y2="94.00" stroke="#000" stroke-width="1.9"/>
<text transform="translate(431.35,100.00) scale(0.9,1)" font-size="23" text-anchor="end" letter-spacing="0.5" stroke="#000" stroke-width="0.4" stroke-linejoin="round">0.8</text>
<text transform="translate(716.00,100.10) scale(0.9,1)" font-size="23" text-anchor="start" letter-spacing="0.5" stroke="#000" stroke-width="0.4" stroke-linejoin="round">0.8</text>
<line x1="437.8" x2="443.0" y1="61.00" y2="61.00" stroke="#000" stroke-width="1.9"/>
<line x1="702.7" x2="707.1" y1="61.00" y2="61.00" stroke="#000" stroke-width="1.9"/>
<text transform="translate(431.35,67.00) scale(0.9,1)" font-size="23" text-anchor="end" letter-spacing="0.5" stroke="#000" stroke-width="0.4" stroke-linejoin="round">1.0</text>
<text transform="translate(716.00,67.10) scale(0.9,1)" font-size="23" text-anchor="start" letter-spacing="0.5" stroke="#000" stroke-width="0.4" stroke-linejoin="round">1.0</text>
<line x1="443.00" x2="443.00" y1="234.2" y2="238.79999999999998" stroke="#000" stroke-width="1.9"/>
<text transform="translate(445.51,266.3) scale(0.89,1)" font-size="23.7" text-anchor="middle" letter-spacing="1.6" stroke="#000" stroke-width="0.4" stroke-linejoin="round">400</text>
<line x1="507.93" x2="507.93" y1="234.2" y2="238.79999999999998" stroke="#000" stroke-width="1.9"/>
<text transform="translate(510.44,266.3) scale(0.89,1)" font-size="23.7" text-anchor="middle" letter-spacing="1.6" stroke="#000" stroke-width="0.4" stroke-linejoin="round">450</text>
<line x1="572.85" x2="572.85" y1="234.2" y2="238.79999999999998" stroke="#000" stroke-width="1.9"/>
<text transform="translate(575.36,266.3) scale(0.89,1)" font-size="23.7" text-anchor="middle" letter-spacing="1.6" stroke="#000" stroke-width="0.4" stroke-linejoin="round">500</text>
<line x1="637.78" x2="637.78" y1="234.2" y2="238.79999999999998" stroke="#000" stroke-width="1.9"/>
<text transform="translate(640.29,266.3) scale(0.89,1)" font-size="23.7" text-anchor="middle" letter-spacing="1.6" stroke="#000" stroke-width="0.4" stroke-linejoin="round">550</text>
<line x1="702.70" x2="702.70" y1="234.2" y2="238.79999999999998" stroke="#000" stroke-width="1.9"/>
<text transform="translate(705.21,266.3) scale(0.89,1)" font-size="23.7" text-anchor="middle" letter-spacing="1.6" stroke="#000" stroke-width="0.4" stroke-linejoin="round">600</text>
<text x="581.8" y="298.6" font-size="25" text-anchor="middle" >Wavelength (nm)</text>
<text transform="translate(390.8,139) rotate(-90)" font-size="25" text-anchor="middle">Abs.</text>
<text transform="translate(776.7,143) rotate(-90)" font-size="25" text-anchor="middle">Normalized Intensity</text>
<text x="438.9" y="29.0" font-size="33" text-anchor="middle" >B</text>
<text x="457.6" y="66.4" font-size="25.5" text-anchor="start" >a</text>
<text x="459.3" y="94.6" font-size="25.5" text-anchor="start" >b</text>
<text x="460.2" y="138.3" font-size="25.5" text-anchor="start" >c</text>
<text x="460.8" y="161.5" font-size="25.5" text-anchor="start" >d</text>
<text x="462.7" y="223.6" font-size="25.5" text-anchor="start" >e</text>
</g></svg>
</body></html>
